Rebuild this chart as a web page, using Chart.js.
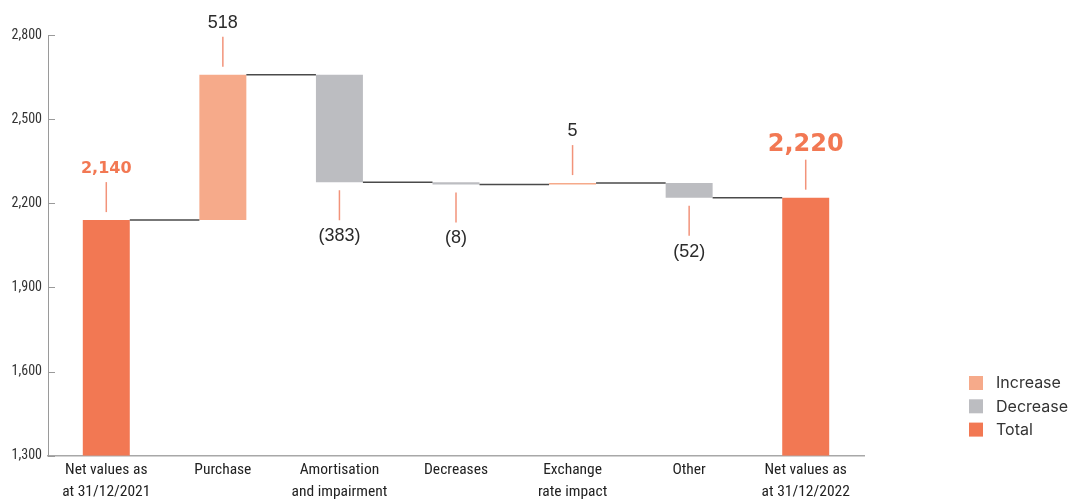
<!DOCTYPE html>
<html><head><meta charset="utf-8">
<script src="https://cdn.jsdelivr.net/npm/chart.js@4.4.1/dist/chart.umd.min.js"></script>
<style>html,body{margin:0;padding:0;background:#fff}#wrap{width:1072px;height:499px;position:relative}</style>
</head><body><div id="wrap"><canvas id="c"></canvas></div>
<script>
// Intangible assets bridge, 2021 -> 2022
const categories = [
  ["Net values as", "at 31/12/2021"],
  ["Purchase"],
  ["Amortisation", "and impairment"],
  ["Decreases"],
  ["Exchange", "rate impact"],
  ["Other"],
  ["Net values as", "at 31/12/2022"]
];
const openingTotal = 2140;
const movements = [518, -383, -8, 5, -52];
const closingTotal = 2220;
const valueLabels = ["2,140", "518", "(383)", "(8)", "5", "(52)", "2,220"];
const yTicks = [1300, 1600, 1900, 2200, 2500, 2800];
const legendLabels = ["Increase", "Decrease", "Total"];

const COLORS = { increase: "#F6AA8A", decrease: "#BCBDC1", total: "#F27853" };
const Y_MIN = 1300, Y_MAX = 2800;

// Build floating [start, end] ranges for the waterfall
const ranges = [], kinds = [];
ranges.push([Y_MIN, openingTotal]); kinds.push("total");
let running = openingTotal;
movements.forEach(d => {
  ranges.push([running, running + d]);
  kinds.push(d >= 0 ? "increase" : "decrease");
  running += d;
});
ranges.push([Y_MIN, closingTotal]); kinds.push("total");

const NARROW = "'Roboto Condensed','DejaVu Sans Condensed',sans-serif";

const waterfallExtras = {
  id: "waterfallExtras",
  afterDatasetsDraw(chart) {
    const ctx = chart.ctx;
    const meta = chart.getDatasetMeta(0);
    const y = chart.scales.y;
    const area = chart.chartArea;
    ctx.save();

    // inner tick marks on the value axis
    ctx.strokeStyle = "#9a9a9a"; ctx.lineWidth = 1;
    yTicks.forEach(v => {
      const py = Math.round(y.getPixelForValue(v)) + 0.5;
      ctx.beginPath(); ctx.moveTo(area.left, py); ctx.lineTo(area.left + 7, py); ctx.stroke();
    });

    // connectors between consecutive bars
    ctx.strokeStyle = "#4a4a4a"; ctx.lineWidth = 1.5;
    for (let i = 0; i < meta.data.length - 1; i++) {
      const a = meta.data[i], b = meta.data[i + 1];
      const level = ranges[i][1];
      const py = y.getPixelForValue(level);
      ctx.beginPath();
      ctx.moveTo(a.x + a.width / 2, py);
      ctx.lineTo(b.x - b.width / 2, py);
      ctx.stroke();
    }

    // value labels with leader ticks
    meta.data.forEach((bar, i) => {
      const kind = kinds[i];
      const top = Math.min(bar.y, bar.base);
      const bottom = Math.max(bar.y, bar.base);
      ctx.strokeStyle = "#F2937A"; ctx.lineWidth = 1.5;
      ctx.textAlign = "center";
      if (kind === "decrease") {
        const t0 = bottom + 8, t1 = bottom + 38;
        ctx.beginPath(); ctx.moveTo(bar.x, t0); ctx.lineTo(bar.x, t1); ctx.stroke();
        ctx.fillStyle = "#2b2b2b";
        ctx.font = "18px 'Liberation Sans',Arial,sans-serif";
        ctx.textBaseline = "top";
        ctx.fillText(valueLabels[i], bar.x, t1 + 7);
      } else {
        const t0 = top - 8, t1 = top - 38;
        ctx.beginPath(); ctx.moveTo(bar.x, t0); ctx.lineTo(bar.x, t1); ctx.stroke();
        ctx.textBaseline = "alphabetic";
        if (kind === "total") {
          ctx.fillStyle = COLORS.total;
          const big = i === meta.data.length - 1;
          ctx.font = (big ? "bold 24px" : "bold 16px") + " 'DejaVu Sans',sans-serif";
        } else {
          ctx.fillStyle = "#2b2b2b";
          ctx.font = "18px 'Liberation Sans',Arial,sans-serif";
        }
        ctx.fillText(valueLabels[i], bar.x, t1 - 9);
      }
    });

    // legend
    const lx = chart.width - 103, ly = 376;
    const swatch = [COLORS.increase, COLORS.decrease, COLORS.total];
    ctx.font = "16px Inter,'Open Sans',sans-serif";
    ctx.textAlign = "left"; ctx.textBaseline = "middle";
    legendLabels.forEach((lab, k) => {
      const yy = ly + k * 23.3;
      ctx.fillStyle = swatch[k];
      ctx.fillRect(lx, yy, 14, 14);
      ctx.fillStyle = "#333";
      ctx.fillText(lab, lx + 27, yy + 7.5);
    });
    ctx.restore();
  }
};

new Chart(document.getElementById("c"), {
  type: "bar",
  data: {
    labels: categories,
    datasets: [{
      data: ranges,
      backgroundColor: kinds.map(k => COLORS[k]),
      borderWidth: 0,
      borderSkipped: false,
      barPercentage: 0.403,
      categoryPercentage: 1.0
    }]
  },
  options: {
    responsive: true,
    maintainAspectRatio: false,
    animation: false,
    layout: { padding: { left: 0, right: 208, top: 35, bottom: 0 } },
    plugins: { legend: { display: false }, tooltip: { enabled: false } },
    scales: {
      x: {
        grid: { display: false, drawTicks: false },
        border: { display: true, color: "#a8a8a8", width: 1.5 },
        ticks: {
          color: "#222",
          font: { family: NARROW, size: 15.5, lineHeight: 1.42 },
          padding: 3,
          maxRotation: 0, autoSkip: false
        },
        afterFit(s) { s.height = 43.3; }
      },
      y: {
        min: Y_MIN, max: Y_MAX,
        afterBuildTicks(s) { s.ticks = yTicks.map(v => ({ value: v })); },
        grid: { display: false, drawTicks: false },
        border: { display: true, color: "#9a9a9a", width: 1 },
        ticks: {
          color: "#333",
          padding: 6,
          font: { family: NARROW, size: 14 },
          callback: v => v.toLocaleString("en-US")
        },
        afterFit(s) { s.width = 48; }
      }
    }
  },
  plugins: [waterfallExtras]
});
</script>
</body></html>
